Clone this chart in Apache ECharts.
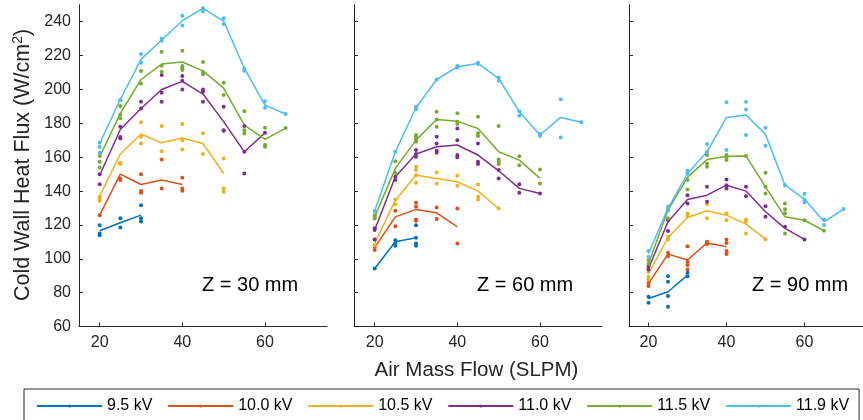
<!DOCTYPE html>
<html>
<head>
<meta charset="utf-8">
<script src="https://cdn.jsdelivr.net/npm/echarts@6/dist/echarts.min.js"></script>
<style>
html,body{margin:0;padding:0;background:#fff;}
#chart{width:863px;height:420px;}
</style>
</head>
<body>
<div id="chart"></div>
<script>
// ---- data ----
const flow = [20, 25, 30, 35, 40, 45, 50, 55, 60, 65, 70];
const voltages = ['9.5 kV', '10.0 kV', '10.5 kV', '11.0 kV', '11.5 kV', '11.9 kV'];
const colors = ['#0072BD', '#D95319', '#EDB120', '#7E2F8E', '#77AC30', '#4DBEEE'];
const panelLabels = ['Z = 30 mm', 'Z = 60 mm', 'Z = 90 mm'];
const xTicks = [20, 40, 60];
const yTicks = [60, 80, 100, 120, 140, 160, 180, 200, 220, 240];

// Z = 30 mm : mean lines
const z30_m95  = [116.6, 121.3, 125.8];
const z30_m100 = [125.8, 150, 143.9, 146.5, 143.9];
const z30_m105 = [137, 161.9, 173.7, 168.5, 171.3, 168.1, 150.4];
const z30_m110 = [149.4, 176.4, 188.8, 200, 204.8, 197.3, 181, 163.2, 174.4];
const z30_m115 = [160.3, 185.9, 205.9, 215, 216.2, 211, 200.8, 179, 170.5, 177.2];
const z30_m119 = [168.1, 194.1, 217.8, 229.2, 240.6, 247.9, 240.4, 212.4, 190.8, 185.5];
// Z = 30 mm : individual measurements
const z30_p95  = [[20,119.9],[20,115],[20,114],[25,123.9],[25,118.5],[30,131.7],[30,123.9],[30,122]];
const z30_p100 = [[20,125.8],[25,156.3],[25,147.5],[25,146.5],[30,150],[30,140],[30,139],[35,158.7],[35,141.6],[40,147.9],[40,141.6],[40,140.2]];
const z30_p105 = [[20,136.7],[20,135.2],[20,134.3],[25,171.7],[25,156.8],[25,156],[30,180.7],[30,172.1],[30,168.1],[35,178.4],[35,163.6],[40,179.6],[40,170.1],[40,164.6],[45,174.1],[45,161.9],[50,159.3],[50,141.6],[50,139.6]];
const z30_p110 = [[20,144.1],[20,150],[25,172],[25,171],[25,178],[30,192.8],[30,188.8],[35,208.5],[35,198],[35,192.8],[40,207.9],[40,205.2],[40,200],[45,200],[45,198.6],[45,192.8],[50,189.8],[50,176],[50,175.6],[55,178.4],[55,163.2],[55,150.4],[60,174.4]];
const z30_p115 = [[20,160.7],[20,157.3],[20,154],[25,190.2],[25,185.3],[25,183],[30,210.9],[30,203.6],[35,222.3],[35,214],[35,210.5],[40,222.9],[40,213.8],[40,212.4],[40,211.5],[45,216.2],[45,210.5],[45,209],[50,204],[50,196.7],[55,187.2],[55,176],[55,174],[60,177.4],[60,167.2],[60,166.2],[65,177.2]];
const z30_p119 = [[20,168.5],[20,166],[20,162.6],[25,194],[25,193.7],[30,221],[30,215.8],[35,230],[35,228.8],[40,243.5],[40,237.8],[45,248],[45,246],[50,242],[50,238.6],[55,212.4],[55,211],[60,193],[60,189.2],[65,185.5]];

// Z = 60 mm : mean lines
const z60_m95  = [94.3, 110.1, 112.4];
const z60_m100 = [106.7, 124.8, 129.2, 127.2, 118.9];
const z60_m105 = [109.1, 134.6, 149.4, 147.5, 145.5, 140, 129.7];
const z60_m110 = [117, 148.5, 161.9, 166.2, 167.2, 161.3, 152, 141.6, 138.6];
const z60_m115 = [124.8, 153.4, 170.1, 182.3, 181.3, 177, 163.2, 158.3, 147.5];
const z60_m119 = [128.2, 163.2, 189.2, 205.9, 213.4, 215.4, 206.5, 186.9, 173.1, 183.5, 180.7];
// Z = 60 mm : individual measurements
const z60_p95  = [[20,94.3],[25,111],[25,109.1],[25,107.7],[30,119.9],[30,112.4],[30,109.1],[30,107.7]];
const z60_p100 = [[20,107.1],[20,105.2],[25,128.4],[25,119.3],[30,133.1],[30,130.7],[30,123.3],[30,122.5],[35,130.3],[35,123.5],[40,129.7],[40,109.1]];
const z60_p105 = [[20,111.5],[20,108.1],[25,135],[25,132.3],[30,154.4],[30,152.4],[30,149.4],[30,144.9],[35,151],[35,144.5],[40,149],[40,143.1],[45,143.9],[45,136.6],[45,135],[50,129.7]];
const z60_p110 = [[20,118],[20,117],[20,111.5],[25,148.5],[25,146.5],[30,164.2],[30,161.9],[30,160.3],[35,172.1],[35,168.1],[35,163.8],[35,162.6],[40,177],[40,170.1],[40,161.3],[40,160],[45,168.1],[45,157.3],[45,156],[50,152.4],[50,147.5],[55,144.1],[55,139],[60,138.6]];
const z60_p115 = [[20,125.8],[20,124.8],[20,123.8],[25,157.7],[25,150.8],[30,173.1],[30,172.1],[30,170.5],[30,169.1],[35,186.9],[35,182.3],[35,178],[40,185.9],[40,180.9],[40,179.6],[45,183.9],[45,174.1],[45,172.5],[50,178.4],[50,158.7],[50,157.3],[50,156],[55,160.6],[55,155.3],[60,152.8],[60,144.5]];
const z60_p119 = [[20,128.2],[25,163.2],[30,189.8],[30,188.4],[35,205.9],[40,213.8],[40,213],[45,215.8],[45,215],[50,207.1],[50,205.1],[55,187.2],[55,184.5],[60,173.7],[60,172.5],[65,194.3],[65,171.7],[70,180.7]];

// Z = 90 mm : mean lines
const z90_m95  = [76.6, 80.6, 90.4];
const z90_m100 = [85.4, 102.8, 99.3, 109.4, 107.1];
const z90_m105 = [91.3, 112.6, 124.4, 128.4, 125.8, 120.5, 111.6];
const z90_m110 = [94.3, 121.9, 135.1, 137.6, 143.5, 140, 127.8, 118, 111.5];
const z90_m115 = [97.3, 128.8, 148.1, 158.7, 160.6, 160.8, 142.5, 124.8, 122.8, 116.6];
const z90_m119 = [103.2, 129.8, 150.4, 163.2, 183.5, 184.9, 173.5, 143.5, 135.3, 121.9, 129.4];
// Z = 90 mm : individual measurements
const z90_p95  = [[20,77.6],[20,74.1],[25,89.8],[25,86.5],[25,78],[25,71.7],[30,91.8],[30,89.8]];
const z90_p100 = [[20,85.8],[20,83.9],[25,103.6],[25,101.6],[30,107.5],[30,98.3],[30,96.3],[30,93.7],[35,110.1],[35,108.7],[40,111.5],[40,109.4],[40,104.7],[40,102.8]];
const z90_p105 = [[20,92.3],[20,89.4],[20,87.8],[25,113],[25,111.4],[30,126.8],[30,125.2],[35,132.3],[35,123.9],[40,126.8],[40,122.8],[45,123.3],[45,121.9],[45,115],[50,111.6]];
const z90_p110 = [[20,95.7],[20,93.7],[25,122.9],[25,116.4],[30,137.6],[30,132.7],[35,142.5],[35,133.7],[40,146.9],[40,143.5],[40,141.6],[45,142.5],[45,137],[50,131.1],[50,124.8],[55,119],[60,111.5]];
const z90_p115 = [[20,99.3],[20,97],[25,123.9],[25,129],[30,146.5],[30,141],[35,161.3],[35,156.3],[35,154.4],[40,161.3],[40,159.8],[40,158.3],[45,160.8],[50,150.8],[50,142.5],[50,138.6],[55,132.7],[55,129.3],[55,126.9],[55,115],[60,122.8],[65,116.6]];
const z90_p119 = [[20,104.7],[20,101.2],[25,130.7],[25,128.4],[30,152],[30,150.4],[35,167.8],[35,163.2],[40,192.4],[40,164.2],[45,192.8],[45,188.2],[45,173.1],[50,177.4],[50,166.8],[55,143.5],[60,138.4],[60,134.9],[60,133.3],[65,123.3],[65,120],[70,129.4]];

const means = [
  [z30_m95, z30_m100, z30_m105, z30_m110, z30_m115, z30_m119],
  [z60_m95, z60_m100, z60_m105, z60_m110, z60_m115, z60_m119],
  [z90_m95, z90_m100, z90_m105, z90_m110, z90_m115, z90_m119]
];
const points = [
  [z30_p95, z30_p100, z30_p105, z30_p110, z30_p115, z30_p119],
  [z60_p95, z60_p100, z60_p105, z60_p110, z60_p115, z60_p119],
  [z90_p95, z90_p100, z90_p105, z90_p110, z90_p115, z90_p119]
];

// ---- layout ----
const AX = '#262626';
const FONT = 'Liberation Sans, Arial, Helvetica, sans-serif';
const gridLefts = [79, 354, 629];
const grids = gridLefts.map(l => ({ left: l, top: 4.8, width: 248, height: 321.8 }));

const xAxes = gridLefts.map((l, i) => ({
  type: 'value', gridIndex: i, min: 15, max: 75,
  axisLine: { show: true, lineStyle: { color: AX, width: 1 } },
  axisTick: { show: true, inside: true, length: 4, customValues: xTicks, lineStyle: { color: AX } },
  axisLabel: { show: true, customValues: xTicks, color: AX, fontSize: 16, fontFamily: FONT, margin: 8 },
  splitLine: { show: false }
}));
const yAxes = gridLefts.map((l, i) => ({
  type: 'value', gridIndex: i, min: 60, max: 250,
  axisLine: { show: true, lineStyle: { color: AX, width: 1 } },
  axisTick: { show: true, inside: true, length: 4, customValues: yTicks, lineStyle: { color: AX } },
  axisLabel: { show: i === 0, customValues: yTicks, color: AX, fontSize: 16, fontFamily: FONT, margin: 8 },
  splitLine: { show: false }
}));

const series = [];
for (let p = 0; p < 3; p++) {
  for (let v = 0; v < 6; v++) {
    series.push({
      type: 'line', name: voltages[v], xAxisIndex: p, yAxisIndex: p,
      data: means[p][v].map((y, k) => [flow[k], y]),
      showSymbol: false, symbol: 'circle', symbolSize: 3,
      lineStyle: { width: 1.5, color: colors[v] },
      itemStyle: { color: colors[v] },
      z: 2, silent: true
    });
  }
}
for (let p = 0; p < 3; p++) {
  for (let v = 0; v < 6; v++) {
    series.push({
      type: 'scatter', name: voltages[v], xAxisIndex: p, yAxisIndex: p,
      data: points[p][v], symbolSize: 4,
      itemStyle: { color: colors[v], opacity: 1 },
      z: 3, silent: true
    });
  }
}

const graphics = [
  {
    type: 'text', x: 476.5, y: 370,
    style: { text: 'Air Mass Flow (SLPM)', font: '20.5px ' + FONT, fill: AX, textAlign: 'center', textVerticalAlign: 'middle' }
  },
  {
    type: 'text', x: 23, y: 165, rotation: Math.PI / 2,
    style: {
      text: 'Cold Wall Heat Flux (W/cm{sup|2})',
      font: '21.5px ' + FONT, fill: AX, textAlign: 'center', textVerticalAlign: 'middle',
      rich: { sup: { fontSize: 14, fontFamily: FONT, fill: AX, verticalAlign: 'top', padding: [0, 0, 10, 0] } }
    }
  }
];
const annX = [202, 477, 752];
panelLabels.forEach((t, i) => {
  graphics.push({
    type: 'text', x: annX[i], y: 285.5,
    style: { text: t, font: '20px ' + FONT, fill: '#000', textAlign: 'left', textVerticalAlign: 'middle' }
  });
});

const chart = echarts.init(document.getElementById('chart'), null, { renderer: 'canvas' });
chart.setOption({
  animation: false,
  backgroundColor: '#fff',
  grid: grids,
  xAxis: xAxes,
  yAxis: yAxes,
  legend: {
    data: voltages,
    left: 24, top: 389,
    orient: 'horizontal',
    itemWidth: 65, itemHeight: 4, itemGap: 14.8,
    padding: [9, 10, 9, 12],
    borderColor: AX, borderWidth: 1,
    textStyle: { fontSize: 16, fontFamily: FONT, color: '#000' },
    selectedMode: false
  },
  graphic: graphics,
  series: series
});
</script>
</body>
</html>
